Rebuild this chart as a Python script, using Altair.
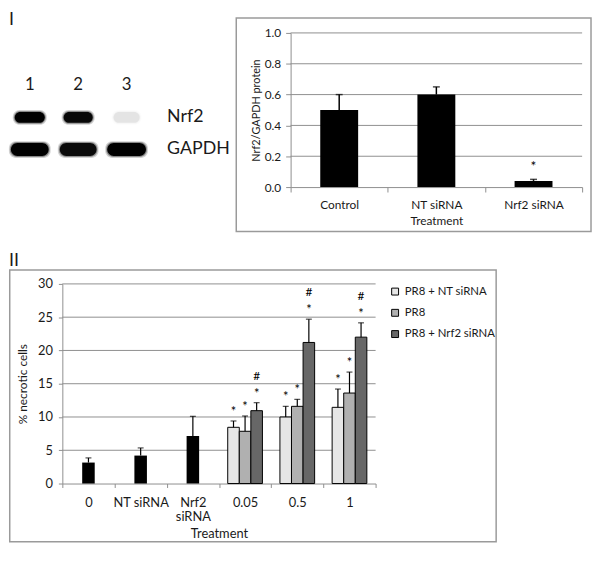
import altair as alt
import pandas as pd

FONT = "Lato"
INK = "#1a1a1a"
GRID = "#8e8e8e"
FRAME = "#9a9a9a"

# ---------------- Panel I : western blot ----------------
lanes = [1, 2, 3]
lane_labels = ["1", "2", "3"]
blot_proteins = ["Nrf2", "GAPDH"]
nrf2_intensity = [1.0, 0.95, 0.07]
gapdh_intensity = [1.0, 0.92, 1.0]
nrf2_band_width = [0.62, 0.60, 0.54]      # in lane units
gapdh_band_width = [0.78, 0.76, 0.80]

# ---------------- Panel I : densitometry ----------------
dens_cats = ["Control", "NT siRNA", "Nrf2 siRNA"]
dens_vals = [0.50, 0.60, 0.04]
dens_err = [0.10, 0.05, 0.01]
dens_sig = ["", "", "*"]
dens_ticks = [0, 0.2, 0.4, 0.6, 0.8, 1.0]

# ---------------- Panel II : necrosis ----------------
nec_cats = ["0", "NT siRNA", "Nrf2 siRNA", "0.05", "0.5", "1"]
ctrl_cats = ["0", "NT siRNA", "Nrf2 siRNA"]
ctrl_vals = [3.15, 4.2, 7.15]
ctrl_err = [0.7, 1.15, 2.95]
dose_cats = ["0.05", "0.5", "1"]
series = ["PR8 + NT siRNA", "PR8", "PR8 + Nrf2 siRNA"]
series_colors = ["#e6e6e6", "#b0b0b0", "#676767"]
nt_vals = [8.45, 10.0, 11.45]
nt_err = [0.95, 1.6, 2.75]
nt_sig = ["*", "*", "*"]
pr8_vals = [7.85, 11.6, 13.6]
pr8_err = [2.3, 1.05, 3.15]
pr8_sig = ["*", "*", "*"]
kd_vals = [10.95, 21.2, 22.0]
kd_err = [1.2, 3.5, 2.15]
kd_sig = ["*", "*", "*"]
kd_hash = ["#", "#", "#"]
nec_ticks = [0, 5, 10, 15, 20, 25, 30]

# ---------------- layout (pixels inside the single plot group) ----------------
W, H = 590, 538
BLOT_X = [0, 222]
BLOT_Y = [22, 178]
DENS_X = [285, 580]
DENS_Y = [178, 22]
NEC_X = [54, 371]
NEC_Y = [478, 276]

one = pd.DataFrame({"k": [0]})

# ======================= BLOT =======================
XD = [0.571, 5.102]
YD = [-1.631, 3.169]
bx = alt.Scale(domain=XD, range=BLOT_X)
by = alt.Scale(domain=YD, range=BLOT_Y)
px_x = (XD[1] - XD[0]) / (BLOT_X[1] - BLOT_X[0])
px_y = (YD[1] - YD[0]) / (BLOT_Y[1] - BLOT_Y[0])

rows = []
for prot, ints, widths in [("Nrf2", nrf2_intensity, nrf2_band_width),
                           ("GAPDH", gapdh_intensity, gapdh_band_width)]:
    r = blot_proteins.index(prot) + 1
    half_h = 5.5 if prot == "Nrf2" else 6.5
    for grow, op in [(2, 0.18), (1, 0.35), (0, 1.0)]:
        for ln, it, w in zip(lanes, ints, widths):
            rows.append(dict(x1=ln - w / 2 - grow * px_x, x2=ln + w / 2 + grow * px_x,
                             y1=r - (half_h + grow) * px_y, y2=r + (half_h + grow) * px_y,
                             op=it * op))
blot_df = pd.DataFrame(rows)

bands = alt.Chart(blot_df).mark_rect(color="black", cornerRadius=7).encode(
    x=alt.X("x1:Q", scale=bx, axis=None), x2="x2:Q",
    y=alt.Y("y1:Q", scale=by, axis=None), y2="y2:Q",
    opacity=alt.Opacity("op:Q", scale=None),
)
lane_df = pd.DataFrame({"lane": lanes, "label": lane_labels, "row": [0] * len(lanes)})
lane_text = alt.Chart(lane_df).mark_text(font=FONT, fontSize=17, color=INK).encode(
    x=alt.X("lane:Q", scale=bx, axis=None),
    y=alt.Y("row:Q", scale=by, axis=None),
    text="label:N",
)
prot_df = pd.DataFrame({"protein": blot_proteins, "row": [1, 2]})
prot_text = alt.Chart(prot_df).mark_text(font=FONT, fontSize=18, align="left", color=INK).encode(
    x=alt.value(160),
    y=alt.Y("row:Q", scale=by, axis=None),
    text="protein:N",
)
blot = alt.layer(bands, lane_text, prot_text)

# ======================= DENSITOMETRY =======================
top_df = pd.DataFrame(dict(cat=dens_cats, val=dens_vals, err=dens_err, sig=dens_sig))
top_df["hi"] = top_df["val"] + top_df["err"]

tx = alt.X("cat:N", sort=dens_cats,
           scale=alt.Scale(domain=dens_cats, range=DENS_X, paddingInner=0, paddingOuter=0),
           axis=alt.Axis(title="Treatment", orient="bottom", offset=DENS_Y[0] - H,
                         labelAngle=0, tickBand="extent", tickSize=5,
                         labelPadding=8, titlePadding=5, labelFontSize=12, titleFontSize=12,
                         domainColor=GRID, tickColor=GRID, titleFontWeight="normal", grid=False))
yax = alt.Axis(title="Nrf2/GAPDH protein", orient="left", offset=-DENS_X[0],
               values=dens_ticks, format=".1f", grid=False,
               domainColor=GRID, tickColor=GRID, tickSize=5,
               labelPadding=5, titlePadding=3, labelFontSize=12, titleFontSize=11,
               titleFontWeight="normal")
ysc = alt.Scale(domain=[0, 1], range=DENS_Y, nice=False)

grid_top = alt.Chart(pd.DataFrame({"g": dens_ticks[1:]})).mark_rule(color=GRID, strokeWidth=1).encode(
    x=alt.value(DENS_X[0]), x2=alt.value(DENS_X[1]), y=alt.Y("g:Q", scale=ysc, axis=yax))
t_bars = alt.Chart(top_df).mark_bar(color="black", width=alt.RelativeBandSize(0.39)).encode(
    x=tx, y=alt.Y("val:Q", scale=ysc, axis=yax))
t_whisk = alt.Chart(top_df).mark_rule(color="black", strokeWidth=1.5).encode(
    x=tx, y=alt.Y("val:Q", scale=ysc, axis=yax), y2="hi:Q")
t_cap = alt.Chart(top_df).mark_tick(color="black", size=7, thickness=1.5).encode(
    x=tx, y=alt.Y("hi:Q", scale=ysc, axis=yax))
t_sig = alt.Chart(top_df).mark_text(font=FONT, fontSize=14, baseline="middle", dy=-12, color="black").encode(
    x=tx, y=alt.Y("hi:Q", scale=ysc, axis=yax), text="sig:N")

dens = alt.layer(grid_top, t_bars, t_whisk, t_cap, t_sig)

# ======================= NECROSIS =======================
ctrl_df = pd.DataFrame(dict(cat=ctrl_cats, val=ctrl_vals, err=ctrl_err))
ctrl_df["hi"] = ctrl_df["val"] + ctrl_df["err"]

drows = []
for s, vals, errs, sigs in [(series[0], nt_vals, nt_err, nt_sig),
                            (series[1], pr8_vals, pr8_err, pr8_sig),
                            (series[2], kd_vals, kd_err, kd_sig)]:
    for i, c in enumerate(dose_cats):
        drows.append(dict(cat=c, series=s, val=vals[i], err=errs[i], sig=sigs[i],
                          hash=kd_hash[i] if s == series[2] else ""))
dose_df = pd.DataFrame(drows)
dose_df["hi"] = dose_df["val"] + dose_df["err"]

bxs = alt.X("cat:N", sort=nec_cats,
            scale=alt.Scale(domain=nec_cats, range=NEC_X, paddingInner=0, paddingOuter=0),
            axis=alt.Axis(title="Treatment", orient="bottom", offset=NEC_Y[0] - H,
                          labelAngle=0, tickBand="extent", tickSize=4,
                          labelPadding=9, titlePadding=4, labelFontSize=13, titleFontSize=13,
                          labelLineHeight=14.5, labelBaseline="top",
                          labelExpr="datum.label == 'Nrf2 siRNA' ? ['Nrf2', 'siRNA'] : datum.label",
                          domainColor=GRID, tickColor=GRID, titleFontWeight="normal", grid=False))
byax = alt.Axis(title="% necrotic cells", orient="left", offset=-NEC_X[0],
                values=nec_ticks, grid=False,
                domainColor=GRID, tickColor=GRID, tickSize=4,
                labelPadding=6, titlePadding=8, labelFontSize=13, titleFontSize=12,
                titleFontWeight="normal")
bys = alt.Scale(domain=[0, 30], range=NEC_Y, nice=False)
xoff = alt.XOffset("series:N", sort=series,
                   scale=alt.Scale(domain=series, paddingInner=0, paddingOuter=0.756))

grid_bot = alt.Chart(pd.DataFrame({"g": nec_ticks[1:]})).mark_rule(color=GRID, strokeWidth=1).encode(
    x=alt.value(NEC_X[0]), x2=alt.value(NEC_X[1]), y=alt.Y("g:Q", scale=bys, axis=byax))
c_bars = alt.Chart(ctrl_df).mark_bar(color="black", width=alt.RelativeBandSize(0.24)).encode(
    x=bxs, y=alt.Y("val:Q", scale=bys, axis=byax))
c_whisk = alt.Chart(ctrl_df).mark_rule(color="black", strokeWidth=1.2).encode(
    x=bxs, y=alt.Y("val:Q", scale=bys, axis=byax), y2="hi:Q")
c_cap = alt.Chart(ctrl_df).mark_tick(color="black", size=6, thickness=1.2).encode(
    x=bxs, y=alt.Y("hi:Q", scale=bys, axis=byax))

d_bars = alt.Chart(dose_df).mark_bar(stroke="black", strokeWidth=1).encode(
    x=bxs, xOffset=xoff, y=alt.Y("val:Q", scale=bys, axis=byax),
    color=alt.Color("series:N", sort=series,
                    scale=alt.Scale(domain=series, range=series_colors),
                    legend=alt.Legend(orient="none", legendX=385, legendY=278, title=None,
                                      symbolType="square", symbolSize=49,
                                      symbolStrokeColor="black", symbolStrokeWidth=1,
                                      labelFontSize=11.5, labelFont=FONT, labelColor=INK,
                                      rowPadding=8.5, labelOffset=4, padding=0)))
d_whisk = alt.Chart(dose_df).mark_rule(color="black", strokeWidth=1.2).encode(
    x=bxs, xOffset=xoff, y=alt.Y("val:Q", scale=bys, axis=byax), y2="hi:Q")
d_cap = alt.Chart(dose_df).mark_tick(color="black", size=6, thickness=1.2).encode(
    x=bxs, xOffset=xoff, y=alt.Y("hi:Q", scale=bys, axis=byax))
d_sig = alt.Chart(dose_df).mark_text(font=FONT, fontSize=13, baseline="middle", dy=-9, color="black").encode(
    x=bxs, xOffset=xoff, y=alt.Y("hi:Q", scale=bys, axis=byax), text="sig:N")
d_hash = alt.Chart(dose_df).mark_text(font=FONT, fontSize=12, baseline="middle", dy=-27, color="black").encode(
    x=bxs, xOffset=xoff, y=alt.Y("hi:Q", scale=bys, axis=byax), text="hash:N")

nec = alt.layer(grid_bot, c_bars, d_bars, c_whisk, d_whisk, c_cap, d_cap, d_sig, d_hash)

# ======================= frames & panel labels =======================
t_frame = alt.Chart(one).mark_rect(fill="transparent", stroke=FRAME, strokeWidth=1.5).encode(
    x=alt.value(230), x2=alt.value(589), y=alt.value(7), y2=alt.value(223))
b_frame = alt.Chart(one).mark_rect(fill="transparent", stroke=FRAME, strokeWidth=1.5).encode(
    x=alt.value(0.75), x2=alt.value(493), y=alt.value(262), y2=alt.value(537))
panel_df = pd.DataFrame({"t": ["I", "II"], "py": [0, 244]})
panel_lab = alt.Chart(panel_df).mark_text(
    font=FONT, fontSize=18, align="left", baseline="top", color=INK
).encode(x=alt.value(0), y=alt.Y("py:Q", scale=alt.Scale(domain=[0, H], range=[0, H]), axis=None),
         text="t:N")

chart = alt.layer(t_frame, b_frame, panel_lab, blot, dens, nec).resolve_scale(
    x="independent", y="independent"
).properties(width=W, height=H, padding=0).configure_view(stroke=None).configure_axis(
    labelFont=FONT, titleFont=FONT, labelColor=INK, titleColor=INK
)

chart.save("out.html", embed_options={"renderer": "svg", "actions": False})
